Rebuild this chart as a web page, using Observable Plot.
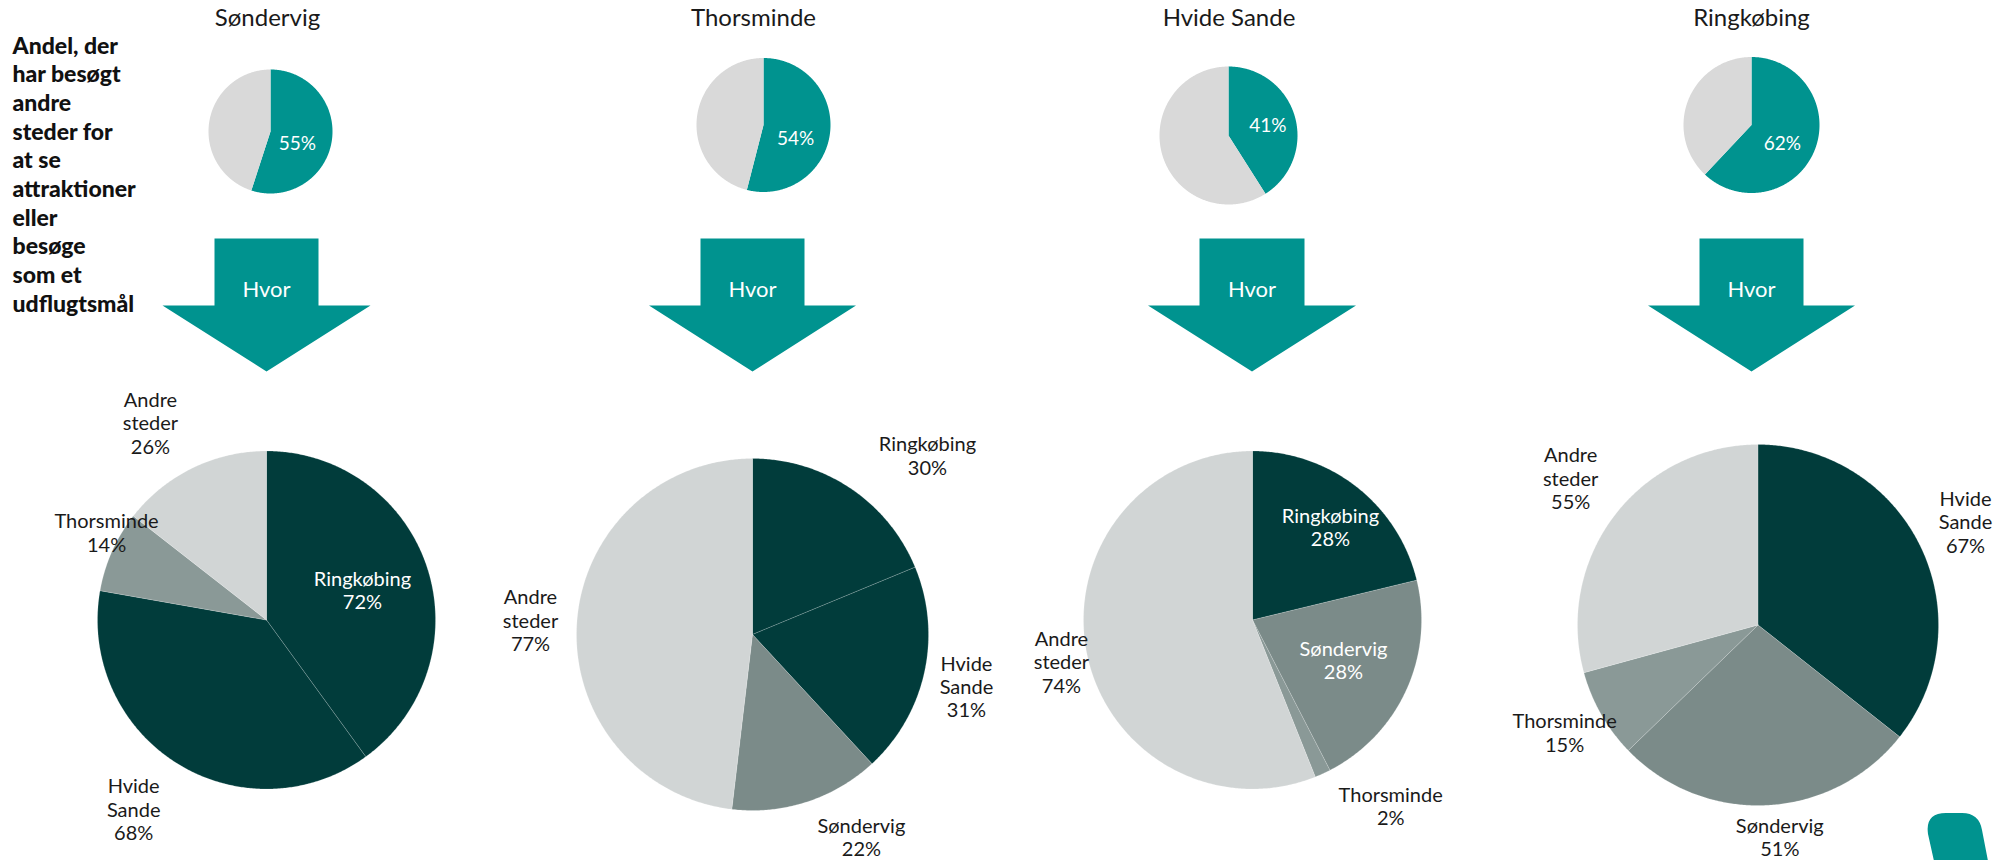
<!DOCTYPE html>
<html><head><meta charset="utf-8">
<script src="https://cdn.jsdelivr.net/npm/d3@7"></script>
<script src="https://cdn.jsdelivr.net/npm/@observablehq/plot@0.6"></script>
<style>
html,body{margin:0;padding:0;background:#fff;}
#chart{width:2010px;height:860px;overflow:hidden;}
</style>
</head><body><div id="chart"></div>
<script>
// ---------------- DATA ----------------
const towns = ["Søndervig", "Thorsminde", "Hvide Sande", "Ringkøbing"];
const visitedPct = [55, 54, 41, 62];

const destSondervig = ["Ringkøbing", "Hvide Sande", "Thorsminde", "Andre steder"];
const pctSondervig = [72, 68, 14, 26];
const destThorsminde = ["Ringkøbing", "Hvide Sande", "Søndervig", "Andre steder"];
const pctThorsminde = [30, 31, 22, 77];
const destHvideSande = ["Ringkøbing", "Søndervig", "Thorsminde", "Andre steder"];
const pctHvideSande = [28, 28, 2, 74];
const destRingkobing = ["Hvide Sande", "Søndervig", "Thorsminde", "Andre steder"];
const pctRingkobing = [67, 51, 15, 55];

const questionLines = ["Andel, der", "har besøgt", "andre", "steder for", "at se", "attraktioner", "eller", "besøge", "som et", "udflugtsmål"];
const arrowLabel = "Hvor";

// ---------------- STYLE / LAYOUT ----------------
const FONT = "Lato, 'Open Sans', sans-serif";
const TEAL = "#00938F";
const TOP_GREY = "#D9D9D9";
const destColor = {
  "Ringkøbing": "#013C3B",
  "Hvide Sande": "#013C3B",
  "Søndervig": "#7B8B89",
  "Thorsminde": "#8A9997",
  "Andre steder": "#D1D5D5"
};
const titleX = [267, 753, 1228.5, 1751];
const topPies = [
  {cx: 270, cy: 131, rx: 62, ry: 62, k: 0.48, dt: 16.7},
  {cx: 763, cy: 124.5, rx: 67, ry: 67, k: 0.52, dt: 15.7},
  {cx: 1228, cy: 135, rx: 69, ry: 69, k: 0.59, dt: 2},
  {cx: 1751, cy: 124.5, rx: 68, ry: 68, k: 0.53, dt: 9.2}
];
const arrows = [
  {cx: 266, shaft: 52, head: 104},
  {cx: 752, shaft: 52, head: 103.5},
  {cx: 1251.5, shaft: 52.5, head: 104},
  {cx: 1751, shaft: 52, head: 103.5}
];
const arrowY = {top: 238, shoulder: 305, tip: 371, text: 289};
const bigPies = [
  {cx: 266, cy: 619.5, r: 169, k: [0.595, 1.367, 1.079, 1.353], dt: [0.6, 3.1, 4.7, -4.5]},
  {cx: 752, cy: 634, r: 176, k: [1.422, 1.251, 1.305, 1.264], dt: [10.6, 1.3, -10.3, 0.3]},
  {cx: 1252, cy: 619.5, r: 169, k: [0.718, 0.588, 1.37, 1.157], dt: [1.8, -0.8, -12.1, -1.4]},
  {cx: 1757.5, cy: 624.5, r: 180.5, k: [1.284, 1.18, 1.226, 1.318], dt: [-0.6, -3, 0.6, 0.7]}
];

const bigDest = [destSondervig, destThorsminde, destHvideSande, destRingkobing];
const bigPct = [pctSondervig, pctThorsminde, pctHvideSande, pctRingkobing];

// ---------------- GEOMETRY FROM DATA ----------------
const rad = d => d * Math.PI / 180;
function slice(out, id, color, cx, cy, rx, ry, a0, a1) {
  out.push({id, color, x: cx, y: cy});
  const n = Math.max(2, Math.ceil((a1 - a0) / 0.5));
  for (let i = 0; i <= n; i++) {
    const a = rad(a0 + (a1 - a0) * i / n);
    out.push({id, color, x: cx + rx * Math.sin(a), y: cy - ry * Math.cos(a)});
  }
  out.push({id, color, x: cx, y: cy});
}

const topSlices = [];
const topLabels = [];
visitedPct.forEach((p, i) => {
  const L = topPies[i];
  const a = p / 100 * 360;
  slice(topSlices, `t${i}a`, TEAL, L.cx, L.cy, L.rx, L.ry, 0, a);
  slice(topSlices, `t${i}b`, TOP_GREY, L.cx, L.cy, L.rx, L.ry, a, 360);
  const m = rad(a / 2 + L.dt);
  topLabels.push({x: L.cx + L.rx * L.k * Math.sin(m), y: L.cy - L.ry * L.k * Math.cos(m), text: p + "%"});
});

const bigSlices = [];
const bigLabels = [];
bigPct.forEach((vals, i) => {
  const L = bigPies[i];
  const total = d3.sum(vals);
  let acc = 0;
  vals.forEach((v, j) => {
    const a0 = acc / total * 360, a1 = (acc + v) / total * 360;
    acc += v;
    const name = bigDest[i][j];
    slice(bigSlices, `b${i}_${j}`, destColor[name], L.cx, L.cy, L.r, L.r, a0, a1);
    const m = rad((a0 + a1) / 2 + L.dt[j]);
    const rr = L.r * L.k[j];
    bigLabels.push({
      x: L.cx + rr * Math.sin(m),
      y: L.cy - rr * Math.cos(m),
      text: name.replace(" ", "\n") + "\n" + v + "%",
      inside: L.k[j] < 1
    });
  });
});

const arrowPts = [];
arrows.forEach((A, i) => {
  const pts = [
    [A.cx - A.shaft, arrowY.top], [A.cx + A.shaft, arrowY.top], [A.cx + A.shaft, arrowY.shoulder],
    [A.cx + A.head, arrowY.shoulder], [A.cx, arrowY.tip], [A.cx - A.head, arrowY.shoulder],
    [A.cx - A.shaft, arrowY.shoulder], [A.cx - A.shaft, arrowY.top]
  ];
  pts.forEach(([x, y]) => arrowPts.push({id: "a" + i, x, y}));
});

// ---------------- PLOT ----------------
const chart = Plot.plot({
  width: 2010,
  height: 860,
  margin: 0,
  style: {fontFamily: FONT, background: "#fff"},
  x: {domain: [0, 2010], range: [0, 2010], axis: null},
  y: {domain: [0, 860], range: [0, 860], axis: null},
  color: {type: "identity"},
  marks: [
    Plot.line(topSlices, {x: "x", y: "y", z: "id", fill: "color", stroke: "none"}),
    Plot.line(bigSlices, {x: "x", y: "y", z: "id", fill: "color", stroke: "#ffffff", strokeWidth: 0.5, strokeOpacity: 0.35}),
    Plot.line(arrowPts, {x: "x", y: "y", z: "id", fill: TEAL, stroke: "none"}),
    Plot.text(towns, {x: (d, i) => titleX[i], y: () => 18, text: d => d, fontSize: 24, fill: "#1a1a1a", fontFamily: FONT}),
    Plot.text(topLabels, {x: "x", y: "y", text: "text", fontSize: 19, fill: "#ffffff", fontFamily: FONT}),
    Plot.text(arrows, {x: d => d.cx, y: () => arrowY.text, text: () => arrowLabel, fontSize: 22, fill: "#ffffff", fontFamily: FONT}),
    Plot.text(bigLabels, {x: "x", y: "y", text: "text", fontSize: 20, lineHeight: 1.17, fill: d => d.inside ? "#ffffff" : "#1a1a1a", fontFamily: FONT}),
    Plot.text([questionLines.join("\n")], {x: () => 12, y: () => 32.7, text: d => d, textAnchor: "start", lineAnchor: "top", lineHeight: 1.248, fontSize: 23, fontWeight: 900, fill: "#111111", fontFamily: FONT})
  ]
});
document.getElementById("chart").appendChild(chart);

// decorative logo fragment in the corner
d3.select(chart).append("path")
  .attr("d", "M1934,861 L1928,834 Q1925,813 1946,813 L1962,813 Q1979,813 1982,830 L1988,861 Z")
  .attr("fill", TEAL);
</script>
</body></html>
